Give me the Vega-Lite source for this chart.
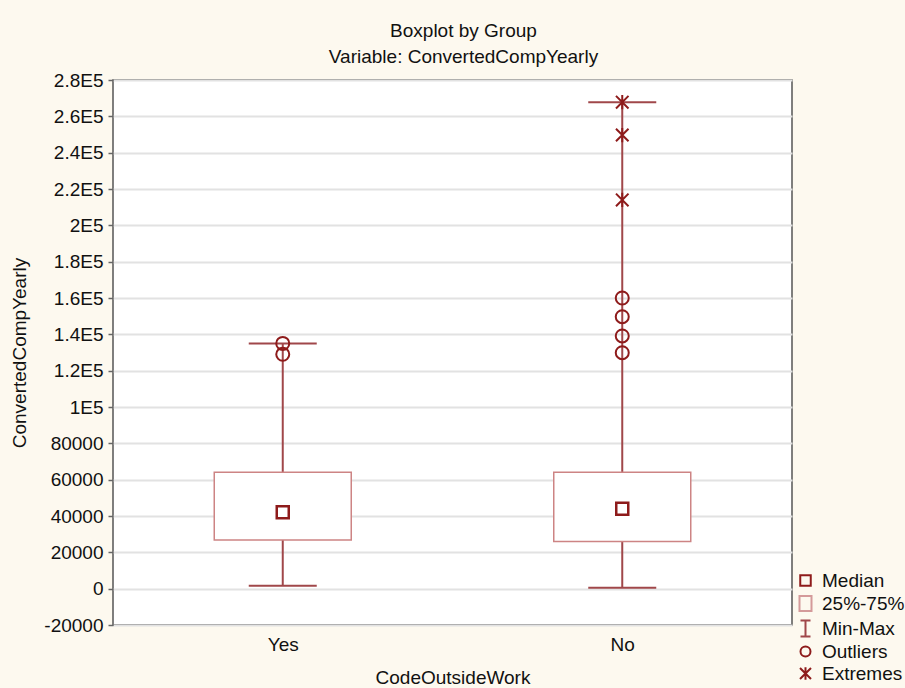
{
  "$schema": "https://vega.github.io/schema/vega-lite/v6.json",
  "width": 679,
  "height": 545,
  "autosize": {"type": "none"},
  "padding": {"left": 113, "top": 80, "right": 113, "bottom": 63},
  "background": "#FDF9EF",
  "title": {
    "text": "Boxplot by Group",
    "subtitle": "Variable: ConvertedCompYearly",
    "anchor": "middle",
    "dx": 11,
    "font": "Liberation Sans",
    "subtitleFont": "Liberation Sans",
    "fontSize": 19,
    "subtitleFontSize": 19,
    "fontWeight": "normal",
    "color": "#111111",
    "subtitleColor": "#111111",
    "offset": 4,
    "subtitlePadding": 7
  },
  "datasets": {
    "boxes": [
      {"group": "Yes", "min": 1600, "q1": 26800, "median": 42100, "q3": 64100, "max": 135000},
      {"group": "No", "min": 550, "q1": 25900, "median": 44000, "q3": 64100, "max": 267800}
    ],
    "points": [
      {"group": "Yes", "value": 135000, "kind": "Outliers"},
      {"group": "Yes", "value": 129000, "kind": "Outliers"},
      {"group": "No", "value": 160000, "kind": "Outliers"},
      {"group": "No", "value": 149700, "kind": "Outliers"},
      {"group": "No", "value": 139100, "kind": "Outliers"},
      {"group": "No", "value": 129900, "kind": "Outliers"},
      {"group": "No", "value": 267800, "kind": "Extremes"},
      {"group": "No", "value": 249700, "kind": "Extremes"},
      {"group": "No", "value": 214000, "kind": "Extremes"}
    ]
  },
  "encoding": {
    "x": {
      "field": "group",
      "type": "nominal",
      "scale": {"type": "point", "domain": ["Yes", "No"], "padding": 0.5},
      "axis": {
        "title": "CodeOutsideWork",
        "labelAngle": 0,
        "ticks": false,
        "tickSize": 0,
        "domain": false,
        "grid": false,
        "labelPadding": 10,
        "titlePadding": 14
      }
    }
  },
  "layer": [
    {
      "data": {"name": "boxes"},
      "mark": {"type": "rule", "color": "#A0474A", "strokeWidth": 2},
      "encoding": {
        "y": {
          "field": "min",
          "type": "quantitative",
          "scale": {"domain": [-20000, 280000], "nice": false, "zero": false},
          "axis": {
            "title": "ConvertedCompYearly",
            "values": [-20000, 0, 20000, 40000, 60000, 80000, 100000, 120000, 140000, 160000, 180000, 200000, 220000, 240000, 260000, 280000],
            "tickCount": 40,
            "labelExpr": "datum.value >= 100000 ? (datum.value / 100000) + 'E5' : datum.value + ''",
            "labelOverlap": false,
            "labelBound": false,
            "labelFlush": false,
            "domain": false,
            "grid": true,
            "gridColor": "#E2E2E2",
            "gridWidth": 2,
            "tickSize": 5,
            "tickColor": "#666666",
            "tickWidth": 1.5,
            "labelPadding": 5,
            "titlePadding": 14
          }
        },
        "y2": {"field": "max"}
      }
    },
    {
      "data": {"name": "boxes"},
      "mark": {"type": "tick", "color": "#A0474A", "thickness": 2, "size": 68, "opacity": 1},
      "encoding": {"y": {"field": "min", "type": "quantitative"}}
    },
    {
      "data": {"name": "boxes"},
      "mark": {"type": "tick", "color": "#A0474A", "thickness": 2, "size": 68, "opacity": 1},
      "encoding": {"y": {"field": "max", "type": "quantitative"}}
    },
    {
      "data": {"name": "boxes"},
      "mark": {"type": "bar", "fill": "white", "stroke": "#CD8484", "strokeWidth": 1.5, "size": 137},
      "encoding": {"y": {"field": "q1", "type": "quantitative"}, "y2": {"field": "q3"}}
    },
    {
      "data": {"name": "boxes"},
      "mark": {"type": "point", "shape": "square", "size": 144, "filled": false, "stroke": "#8E1B1B", "strokeWidth": 2.5, "opacity": 1},
      "encoding": {"y": {"field": "median", "type": "quantitative"}}
    },
    {
      "data": {"name": "points"},
      "transform": [{"filter": "datum.kind === 'Outliers'"}],
      "mark": {"type": "point", "filled": false, "strokeWidth": 2, "size": 169, "opacity": 1},
      "encoding": {
        "y": {"field": "value", "type": "quantitative"},
        "shape": {
          "field": "kind",
          "type": "nominal",
          "scale": {
            "domain": ["Median", "25%-75%", "Min-Max", "Outliers", "Extremes"],
            "range": ["M-1.05,-1.05H1.05V1.05H-1.05Z", "M-1.2,-1.5H1.2V1.5H-1.2Z", "M-1,-1.6H1M0,-1.6V1.6M-1,1.6H1", "circle", "M0,-1.25V1.25M-1.1,-1.1L1.1,1.1M-1.1,1.1L1.1,-1.1"]
          },
          "legend": {"title": null}
        },
        "stroke": {
          "field": "kind",
          "type": "nominal",
          "scale": {
            "domain": ["Median", "25%-75%", "Min-Max", "Outliers", "Extremes"],
            "range": ["#8E1B1B", "#D49A9A", "#A0474A", "#8E1B1B", "#8E1B1B"]
          },
          "legend": {"title": null}
        }
      }
    },
    {
      "data": {"name": "points"},
      "transform": [{"filter": "datum.kind === 'Extremes'"}],
      "mark": {"type": "point", "filled": false, "strokeWidth": 2, "size": 130, "opacity": 1},
      "encoding": {
        "y": {"field": "value", "type": "quantitative"},
        "shape": {"field": "kind", "type": "nominal", "legend": {"title": null}},
        "stroke": {"field": "kind", "type": "nominal", "legend": {"title": null}}
      }
    }
  ],
  "config": {
    "font": "Liberation Sans",
    "view": {"fill": "white", "stroke": "#555555", "strokeWidth": 1.5},
    "axis": {
      "labelFont": "Liberation Sans",
      "labelFontSize": 19,
      "labelColor": "#111111",
      "titleFont": "Liberation Sans",
      "titleFontSize": 19,
      "titleFontWeight": "normal",
      "titleColor": "#111111"
    },
    "legend": {
      "orient": "none",
      "legendX": 683,
      "legendY": 491,
      "labelFont": "Liberation Sans",
      "labelFontSize": 19,
      "labelColor": "#111111",
      "labelLimit": 200,
      "symbolSize": 100,
      "symbolStrokeWidth": 2,
      "symbolFillColor": "white",
      "rowPadding": 1,
      "labelOffset": 7,
      "padding": 0
    }
  }
}
